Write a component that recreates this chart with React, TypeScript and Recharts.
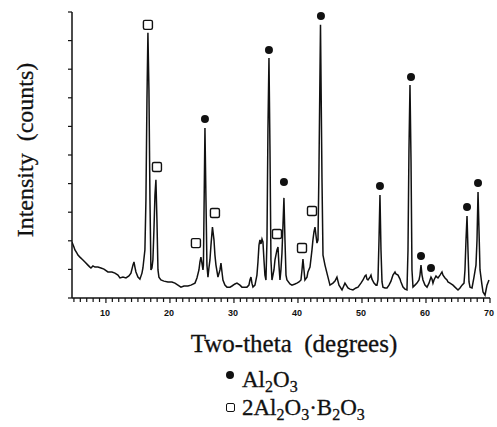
import React from 'react';
import { ComposedChart, Line, Scatter, XAxis, YAxis } from 'recharts';

// XRD pattern: [two-theta (deg), intensity (arb. units, axis 0-10)]
const spectrum: [number, number][] = [
  [4.69,1.96],[5.00,1.78],[5.16,1.68],[5.47,1.57],[5.63,1.50],[5.94,1.43],[6.41,1.33],[6.72,1.26],[7.19,1.15],[7.50,1.08],[7.66,1.05],[7.97,1.12],[8.28,1.08],[8.75,1.08],[9.22,1.05],[9.69,1.01],[10.31,0.91],[10.94,0.91],[11.41,0.87],[11.88,0.80],[12.19,0.70],[12.66,0.73],[13.13,0.70],[13.59,0.77],[13.91,0.87],[14.22,1.15],[14.38,1.26],[14.53,1.08],[14.69,0.91],[15.00,0.73],[15.31,0.66],[15.63,0.87],[15.78,1.05],[16.09,1.68],[16.25,3.43],[16.41,6.92],[16.56,9.27],[16.72,7.27],[16.88,3.43],[17.03,0.98],[17.19,1.05],[17.34,1.33],[17.50,2.38],[17.66,3.60],[17.81,4.13],[17.97,2.73],[18.13,0.98],[18.28,0.73],[18.59,0.63],[19.06,0.59],[19.69,0.56],[20.31,0.56],[20.78,0.52],[21.25,0.45],[21.72,0.38],[22.19,0.42],[22.81,0.42],[23.28,0.45],[23.91,0.52],[24.22,0.70],[24.53,0.98],[24.69,1.26],[24.84,1.43],[25.00,1.22],[25.16,0.98],[25.23,1.15],[25.31,2.73],[25.47,5.94],[25.63,3.43],[25.78,1.15],[25.94,0.73],[26.09,1.05],[26.25,1.33],[26.41,1.85],[26.64,2.48],[26.88,2.03],[27.03,1.50],[27.19,1.15],[27.50,0.73],[27.81,0.98],[27.97,1.22],[28.13,0.91],[28.28,0.63],[28.59,0.45],[28.91,0.38],[29.38,0.38],[29.69,0.42],[30.16,0.49],[30.47,0.52],[30.94,0.45],[31.25,0.38],[31.72,0.38],[32.03,0.38],[32.34,0.45],[32.50,0.63],[32.66,0.73],[32.81,0.52],[32.97,0.38],[33.28,0.45],[33.59,0.80],[33.75,1.26],[33.91,1.85],[34.06,2.03],[34.22,1.89],[34.38,2.06],[34.53,1.96],[34.69,1.33],[34.84,0.80],[35.00,0.63],[35.16,2.03],[35.31,5.87],[35.47,8.39],[35.63,5.17],[35.78,1.33],[35.94,0.63],[36.25,0.98],[36.41,1.33],[36.72,1.68],[36.88,1.78],[37.03,1.15],[37.19,0.63],[37.34,0.98],[37.50,1.57],[37.66,2.55],[37.81,3.50],[37.97,2.03],[38.13,0.80],[38.28,0.63],[38.75,0.49],[39.06,0.45],[39.53,0.49],[39.84,0.52],[40.16,0.56],[40.47,0.63],[40.63,0.98],[40.78,1.36],[40.94,0.98],[41.09,0.63],[41.41,0.73],[41.56,0.91],[41.88,1.08],[42.19,1.68],[42.34,2.03],[42.50,2.31],[42.66,2.48],[42.81,2.20],[42.97,1.92],[43.13,2.03],[43.28,4.48],[43.52,9.55],[43.75,4.20],[43.91,1.50],[44.22,1.15],[44.53,0.87],[45.00,0.45],
  [45.47,0.52],[45.78,0.59],[46.09,0.73],[46.41,0.45],[46.88,0.28],[47.34,0.52],[47.81,0.35],[48.13,0.31],[48.59,0.28],[49.06,0.35],[49.38,0.38],[49.84,0.52],[50.16,0.63],[50.47,0.77],[50.63,0.80],[50.78,0.66],[50.94,0.63],[51.25,0.73],[51.41,0.80],[51.56,0.66],[51.88,0.52],[52.19,0.45],[52.34,0.45],[52.50,0.63],[52.66,2.03],[52.81,3.60],[52.97,1.68],[53.13,0.56],[53.28,0.38],[53.59,0.35],[53.91,0.35],[54.22,0.45],[54.53,0.59],[54.69,0.70],[54.84,0.80],[55.16,0.91],[55.31,0.84],[55.63,0.80],[55.94,0.66],[56.09,0.56],[56.41,0.38],[56.72,0.31],[57.03,0.28],[57.19,1.68],[57.34,5.17],[57.50,7.45],[57.66,4.83],[57.81,0.98],[57.97,0.38],[58.28,0.45],[58.59,0.52],[58.91,0.63],[59.06,0.80],[59.22,1.15],[59.38,0.80],[59.53,0.63],[59.84,0.45],[60.16,0.38],[60.47,0.52],[60.63,0.63],[60.78,0.73],[60.94,0.66],[61.09,0.52],[61.25,0.63],[61.56,0.77],[61.72,0.73],[61.88,0.70],[62.19,0.80],[62.50,0.91],[62.66,0.80],[62.97,0.70],[63.28,0.63],[63.44,0.56],[63.75,0.52],[64.22,0.45],[64.53,0.38],[65.00,0.28],[65.31,0.35],[65.63,0.45],[65.94,0.52],[66.09,0.98],[66.25,2.03],[66.41,2.87],[66.56,1.68],[66.72,0.56],[66.88,0.38],[67.19,0.35],[67.50,0.73],[67.81,1.15],[67.97,2.03],[68.13,3.71],[68.28,2.38],[68.44,0.98],[68.75,0.45],[68.91,0.21],[69.22,0.10],[69.38,0.28],[69.53,0.45],[69.84,0.63],
];

// Peak markers
const al2o3Marks: [number, number][] = [
  [25.47,6.26],[35.47,8.67],[37.81,4.06],[43.59,9.86],[52.81,3.92],[57.66,7.73],[59.22,1.47],[60.78,1.05],[66.41,3.18],[68.13,4.02],
];
const boratMarks: [number, number][] = [
  [16.56,9.55],[17.97,4.58],[24.06,1.92],[27.03,2.97],[36.72,2.24],[40.63,1.75],[42.19,3.04],
];

const xTicks: number[] = [];
for (let t = 5; t <= 70; t++) xTicks.push(t);
const yTicks = [0, 1, 2, 3, 4, 5, 6, 7, 8, 9, 10];

const lineData = spectrum.map(([deg, I]) => ({ deg, I }));
const alData = al2o3Marks.map(([deg, I]) => ({ deg, I }));
const boData = boratMarks.map(([deg, I]) => ({ deg, I }));

const serif = '"Liberation Serif", "Times New Roman", serif';

const XTick = (props: any) => {
  const { x, y, payload } = props;
  const major = payload.value % 10 === 0;
  return (
    <g>
      <line x1={x} y1={y} x2={x} y2={y + (major ? 5 : 4)} stroke="#111" strokeWidth={1.2} />
      {major && (
        <text x={x - 1} y={y + 18} textAnchor="middle" fontSize={9} fontWeight="bold"
          fontFamily='"Liberation Sans", Arial, sans-serif' fill="#111">
          {payload.value}
        </text>
      )}
    </g>
  );
};

const Dot = (props: any) => {
  const { cx, cy } = props;
  return <circle cx={cx} cy={cy} r={4} fill="#111" />;
};
const Sq = (props: any) => {
  const { cx, cy } = props;
  return <rect x={cx - 4.5} y={cy - 4.5} width={9} height={9} rx={1.5} fill="#fff" stroke="#111" strokeWidth={1.4} />;
};

const YLabel = (props: any) => {
  const vb = props.viewBox;
  const cx = 33;
  const cy = vb.y + vb.height / 2 - 5;
  return (
    <text x={cx} y={cy} transform={`rotate(-90 ${cx} ${cy})`} textAnchor="middle"
      fontFamily={serif} fontSize={24} fill="#111" stroke="#111" strokeWidth={0.3}
      style={{ whiteSpace: 'pre' }}>
      {'Intensity  (counts)'}
    </text>
  );
};

const XLabel = (props: any) => {
  const vb = props.viewBox;
  return (
    <text x={vb.x + vb.width / 2 + 13} y={352} textAnchor="middle"
      fontFamily={serif} fontSize={25} fill="#111" stroke="#111" strokeWidth={0.3}
      style={{ whiteSpace: 'pre' }}>
      {'Two-theta  (degrees)'}
    </text>
  );
};

const subStyle: React.CSSProperties = { fontSize: 16, verticalAlign: -5, lineHeight: 0 };
const legendText: React.CSSProperties = {
  position: 'absolute', left: 226, fontFamily: serif, fontSize: 23, color: '#111',
  lineHeight: '23px', whiteSpace: 'nowrap', WebkitTextStroke: '0.3px #111',
};

export default function App() {
  return (
    <div style={{ position: 'absolute', left: 0, top: 0, width: 497, height: 427, background: '#fff' }}>
      <ComposedChart width={497} height={427} data={lineData}
        margin={{ top: 12, right: 7, bottom: 99, left: 32 }}>
        <XAxis type="number" dataKey="deg" domain={[4.7, 70]} ticks={xTicks} interval={0}
          allowDataOverflow height={30} tickSize={0} tickMargin={0} tickLine={false}
          tick={<XTick />} axisLine={{ stroke: '#111', strokeWidth: 1.5 }}
          label={<XLabel />} />
        <YAxis type="number" dataKey="I" domain={[0, 10]} ticks={yTicks} interval={0}
          allowDataOverflow width={40} tickSize={4} tickFormatter={() => ''}
          tickLine={{ stroke: '#111', strokeWidth: 1.2 }}
          axisLine={{ stroke: '#111', strokeWidth: 1.5 }} label={<YLabel />} />
        <Line type="linear" dataKey="I" stroke="#111" strokeWidth={1.5} dot={false}
          isAnimationActive={false} />
        <Scatter data={alData} dataKey="I" shape={<Dot />} isAnimationActive={false} />
        <Scatter data={boData} dataKey="I" shape={<Sq />} isAnimationActive={false} />
      </ComposedChart>
      <div style={{ ...legendText, top: 368 }}>
        <span style={{ display: 'inline-block', width: 8, height: 8, borderRadius: 4, background: '#111', marginRight: 8, verticalAlign: 8 }} />Al<sub style={subStyle}>2</sub>O<sub style={subStyle}>3</sub>
      </div>
      <div style={{ ...legendText, top: 396 }}>
        <span style={{ display: 'inline-block', width: 7, height: 7, border: '1.4px solid #111', borderRadius: 2, marginRight: 7, verticalAlign: 3 }} />2Al<sub style={subStyle}>2</sub>O<sub style={subStyle}>3</sub>·B<sub style={subStyle}>2</sub>O<sub style={subStyle}>3</sub>
      </div>
    </div>
  );
}
